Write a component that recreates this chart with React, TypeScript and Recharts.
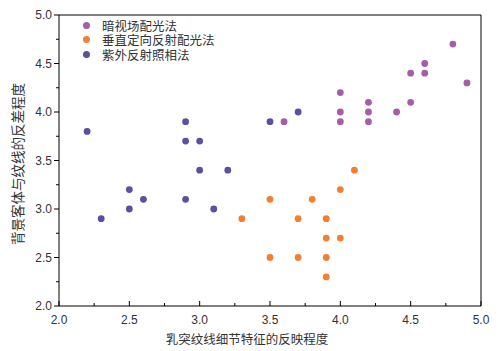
import { ScatterChart, Scatter, XAxis, YAxis, ReferenceLine } from 'recharts';

// 暗视场配光法
const darkFieldX = [3.6, 4.0, 4.0, 4.0, 4.2, 4.2, 4.2, 4.4, 4.5, 4.5, 4.6, 4.6, 4.8, 4.9];
const darkFieldY = [3.9, 4.2, 4.0, 3.9, 4.1, 4.0, 3.9, 4.0, 4.4, 4.1, 4.5, 4.4, 4.7, 4.3];

// 垂直定向反射配光法
const verticalX = [4.1, 4.0, 3.5, 3.8, 3.3, 3.7, 3.9, 3.9, 4.0, 3.5, 3.7, 3.9, 3.9];
const verticalY = [3.4, 3.2, 3.1, 3.1, 2.9, 2.9, 2.9, 2.7, 2.7, 2.5, 2.5, 2.5, 2.3];

// 紫外反射照相法
const uvX = [2.2, 2.9, 3.5, 3.7, 2.9, 3.0, 3.0, 3.2, 2.5, 2.6, 2.9, 2.5, 3.1, 2.3];
const uvY = [3.8, 3.9, 3.9, 4.0, 3.7, 3.7, 3.4, 3.4, 3.2, 3.1, 3.1, 3.0, 3.0, 2.9];

const seriesNames = ['暗视场配光法', '垂直定向反射配光法', '紫外反射照相法'];
const seriesColors = ['#a65ca8', '#f47f30', '#5a4fa2'];

const axisTicks = [2.0, 2.25, 2.5, 2.75, 3.0, 3.25, 3.5, 3.75, 4.0, 4.25, 4.5, 4.75, 5.0];

const FONT = '"Liberation Sans", Arial, "Noto Sans CJK SC", sans-serif';
const TEXT = '#333';

const zip = (xs: number[], ys: number[]) => xs.map((x, i) => ({ x, y: ys[i] }));

const isMajor = (v: number) => Math.abs(v * 2 - Math.round(v * 2)) < 1e-6;

const X_MARGIN = 10;
const Y_MARGIN = 6;

function XTick(props: any) {
  const { x, y, payload } = props;
  const axisY = y - X_MARGIN;
  const major = isMajor(payload.value);
  return (
    <g>
      <line x1={x} x2={x} y1={axisY} y2={axisY - (major ? 5 : 3)} stroke="#000" />
      {major && (
        <text x={x} y={axisY + 18} textAnchor="middle" fontSize={12} fill={TEXT} fontFamily={FONT}>
          {payload.value.toFixed(1)}
        </text>
      )}
    </g>
  );
}

function YTick(props: any) {
  const { x, y, payload } = props;
  const axisX = x + Y_MARGIN;
  const major = isMajor(payload.value);
  return (
    <g>
      <line x1={axisX} x2={axisX - (major ? 5 : 3)} y1={y} y2={y} stroke="#000" />
      {major && (
        <text x={axisX - 7} y={y + 4} textAnchor="end" fontSize={12} fill={TEXT} fontFamily={FONT}>
          {payload.value.toFixed(1)}
        </text>
      )}
    </g>
  );
}

function LegendBox() {
  return (
    <div
      style={{
        position: 'absolute',
        top: 18,
        left: 83,
        fontFamily: FONT,
        fontSize: 12.5,
        color: TEXT,
      }}
    >
      {seriesNames.map((name, i) => (
        <div key={name} style={{ display: 'flex', alignItems: 'center', height: 14.5 }}>
          <span
            style={{
              width: 7,
              height: 7,
              borderRadius: '50%',
              background: seriesColors[i],
              marginRight: 12,
              display: 'inline-block',
            }}
          />
          <span>{name}</span>
        </div>
      ))}
    </div>
  );
}

export default function App() {
  const all = [zip(darkFieldX, darkFieldY), zip(verticalX, verticalY), zip(uvX, uvY)];
  return (
    <div style={{ position: 'absolute', left: 0, top: 0, width: 498, height: 351, background: '#fff' }}>
      <ScatterChart width={498} height={351} margin={{ top: 15, right: 17, bottom: 0, left: 0 }}>
        <XAxis
          type="number"
          dataKey="x"
          domain={[2, 5]}
          ticks={axisTicks}
          interval={0}
          tickSize={0}
          tickMargin={X_MARGIN}
          tick={<XTick />}
          axisLine={{ stroke: '#000' }}
          tickLine={false}
          height={45}
          label={{
            value: '乳突纹线细节特征的反映程度',
            content: () => (
              <text x={247} y={344} textAnchor="middle" fontSize={12.5} fill={TEXT} fontFamily={FONT}>
                乳突纹线细节特征的反映程度
              </text>
            ),
          }}
        />
        <YAxis
          type="number"
          dataKey="y"
          domain={[2, 5]}
          ticks={axisTicks}
          interval={0}
          tickSize={0}
          tickMargin={Y_MARGIN}
          tick={<YTick />}
          axisLine={{ stroke: '#000' }}
          tickLine={false}
          width={59}
          label={{
            value: '背景客体与纹线的反差程度',
            content: () => (
              <text
                x={23}
                y={164}
                transform="rotate(-90 23 164)"
                textAnchor="middle"
                fontSize={13.5}
                fill={TEXT}
                fontFamily={FONT}
              >
                背景客体与纹线的反差程度
              </text>
            ),
          }}
        />
        <ReferenceLine y={5} stroke="#000" ifOverflow="visible" />
        <ReferenceLine x={5} stroke="#000" ifOverflow="visible" />
        {all.map((data, i) => (
          <Scatter
            key={seriesNames[i]}
            name={seriesNames[i]}
            data={data}
            fill={seriesColors[i]}
            shape={(p: any) => <circle cx={p.cx} cy={p.cy} r={3.4} fill={seriesColors[i]} />}
            isAnimationActive={false}
          />
        ))}
      </ScatterChart>
      <LegendBox />
    </div>
  );
}
